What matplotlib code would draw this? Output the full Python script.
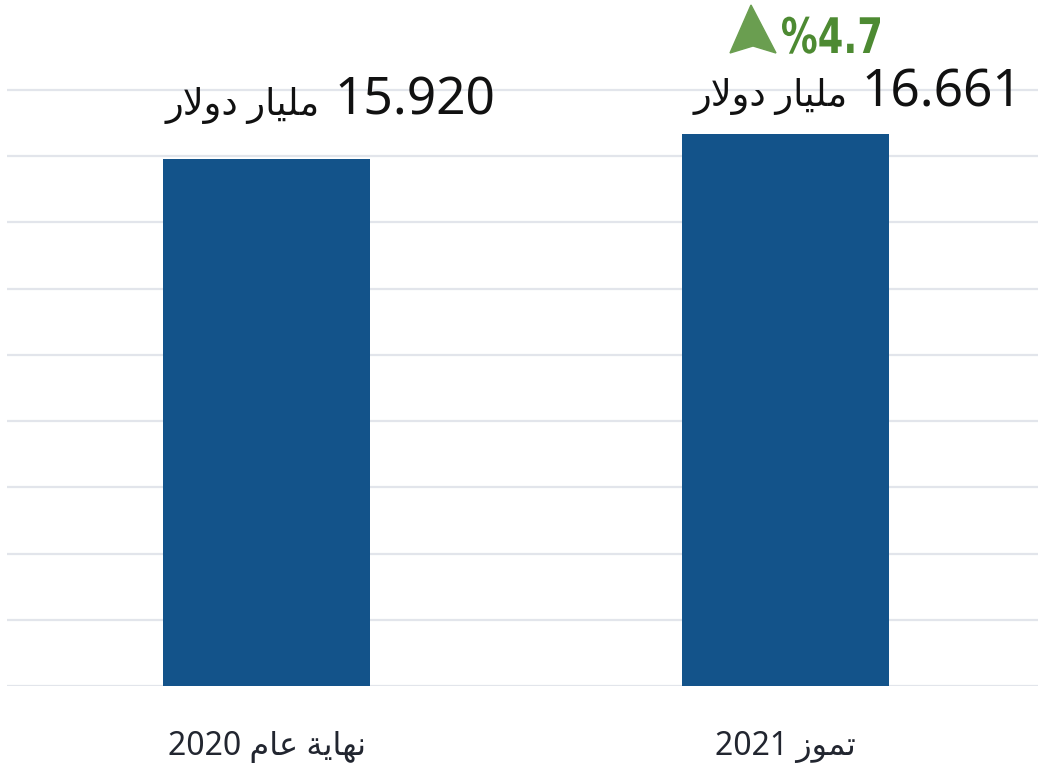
import matplotlib
matplotlib.use('Agg')
import matplotlib.pyplot as plt
from matplotlib.patches import Polygon, PathPatch
from matplotlib.textpath import TextPath
from matplotlib.font_manager import FontProperties
from matplotlib.transforms import Affine2D, IdentityTransform

# Arabic text written in presentation forms, visual (left-to-right) order
categories = ['2020 ﻡﺎﻋ ﺔﻳﺎﻬﻧ', '2021 ﺯﻮﻤﺗ']
values = [15.920, 16.661]
value_labels = ['15.920', '16.661']
unit_label = 'ﺭﻻﻭﺩ ﺭﺎﻴﻠﻣ'
change_label = '%4.7'

# per-bar label offsets in pixels (number left edge, baseline height above bar)
num_dx = [68, 76]
num_dy = [44, 28]
unit_dx = [53, 62]

plt.rcParams['font.family'] = ['Noto Sans', 'DejaVu Sans']

W, H = 1038, 767
fig = plt.figure(figsize=(W / 100, H / 100), dpi=100)
ax = fig.add_axes([7 / W, (H - 686) / H, 1 - 7 / W, 686 / H])

bar_color = '#13538a'
x = list(range(len(values)))
ax.bar(x, values, width=0.4, color=bar_color, zorder=3)

ax.set_xlim(-0.5, 1.4865)
ax.set_ylim(0, 20.72)
ax.set_yticks(range(0, 19, 2))
ax.grid(axis='y', color='#e2e5eb', linewidth=1.6, zorder=0)
ax.tick_params(left=False, bottom=False, labelleft=False, labelbottom=False)
for s in ax.spines.values():
    s.set_visible(False)

for i, v in enumerate(values):
    ax.annotate(value_labels[i], xy=(i, v), xytext=(num_dx[i], num_dy[i]),
                textcoords='offset pixels', ha='left', va='baseline',
                fontsize=37, color='#111111')
    ax.annotate(unit_label, xy=(i, v), xytext=(unit_dx[i], num_dy[i]),
                textcoords='offset pixels', ha='right', va='baseline',
                fontsize=26.5, color='#111111')
    ax.annotate(categories[i], xy=(i, 0), xytext=(0, -69),
                textcoords='offset pixels', ha='center', va='baseline',
                fontsize=23, color='#222630')

# green up arrow with percentage change
def fp(px, py):
    return (px / W, 1 - py / H)

arrow = Polygon([fp(751, 5), fp(776, 53), fp(753, 46), fp(730, 53)],
                closed=True, transform=fig.transFigure, color='#6a9e50',
                zorder=5)
fig.patches.append(arrow)

# condensed bold text: squeeze a text path horizontally
tp = TextPath((0, 0), change_label, size=49,
              prop=FontProperties(family='DejaVu Sans', weight='bold'))
ext = tp.get_extents()
sx = 98 / ext.width
tr = Affine2D().translate(-ext.x0, 0).scale(sx, 1).translate(782, H - 53)
pct = PathPatch(tr.transform_path(tp), transform=IdentityTransform(),
                color='#4d8a32', lw=0)
fig.patches.append(pct)

fig.savefig('out.png', dpi=100)
